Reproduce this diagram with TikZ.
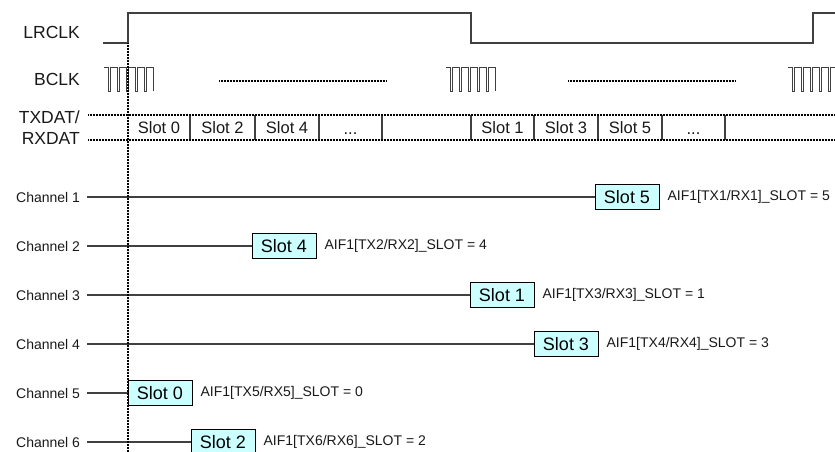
\documentclass[tikz,border=0pt]{standalone}
\usepackage{fontspec}
\setmainfont{Liberation Sans}
\definecolor{slotfill}{RGB}{204,255,255}
\definecolor{linegray}{RGB}{64,64,64}
\begin{document}
\begin{tikzpicture}[x=1pt,y=-1pt,
  sig/.style={draw=linegray, line width=1.1pt},
  dotl/.style={draw=black, line width=2pt, dash pattern=on 1pt off 0.5pt},
  lbl/.style={font=\fontsize{17.5}{18}\selectfont, anchor=east, inner sep=0pt, text=black!90},
  chl/.style={font=\fontsize{14}{14}\selectfont, anchor=east, inner sep=0pt, outer xsep=7pt, text=black!90},
  slotbox/.style={draw=black, fill=slotfill, line width=0.9pt, minimum width=64pt, minimum height=25pt, inner sep=0pt, font=\fontsize{18}{18}\selectfont},
  slottxt/.style={font=\fontsize{16.5}{17}\selectfont, inner sep=0pt, text=black!90},
  aif/.style={font=\fontsize{14}{14}\selectfont, anchor=west, inner sep=0pt, text=black!90},
  bclk/.pic={\draw[draw=linegray, line width=1pt]
    (0,0) -- (4,0) -- (4,24) -- (6.5,24) -- (6.5,0) -- (13,0) -- (13,24) -- (15.5,24) -- (15.5,0)
    -- (22,0) -- (22,24) -- (24.5,24) -- (24.5,0) -- (31,0) -- (31,24) -- (33.5,24) -- (33.5,0)
    -- (40,0) -- (40,24) -- (42.5,24) -- (42.5,0) -- (49,0) -- (49,24);}
]
\useasboundingbox (0,0) rectangle (835,451);

% signal labels
\node[lbl] (lr) at (80,32) {LRCLK};
\node[lbl] (bc) at (80,79) {BCLK};
\node[lbl] (txd) at (80,117) {TXDAT/};
\node[lbl] (rxd) at (80,138) {RXDAT};

% LRCLK waveform
\draw[sig] (103,43) -- (128,43) -- (128,13) -- (471,13) -- (471,43) -- (813,43) -- (813,13) -- (836,13);

% BCLK waveform
\pic at (104,67) {bclk};
\pic at (446,67) {bclk};
\pic at (788,67) {bclk};
\draw[dotl] (219,81) -- (387,81);
\draw[dotl] (568,81) -- (735,81);

% data row
\foreach \x in {190,255,319,382,471,534,598,662,725}
  \draw[sig] (\x,115) -- (\x,140);
\draw[dotl] (88,115) -- (836,115);
\draw[dotl] (88,140) -- (836,140);
\node[slottxt] (s0) at (159,128) {Slot 0};
\node[slottxt] (s2) at (222.5,128) {Slot 2};
\node[slottxt] (s4) at (287,128) {Slot 4};
\node[slottxt, anchor=base] (d1) at (350.5,134) {...};
\node[slottxt] (s1) at (502.5,128) {Slot 1};
\node[slottxt] (s3) at (566,128) {Slot 3};
\node[slottxt] (s5) at (630,128) {Slot 5};
\node[slottxt, anchor=base] (d2) at (693.5,134) {...};

% channels
\node[chl] (c1) at (87,197) {Channel 1};
\node[chl] (c2) at (87,246) {Channel 2};
\node[chl] (c3) at (87,295) {Channel 3};
\node[chl] (c4) at (87,344) {Channel 4};
\node[chl] (c5) at (87,393) {Channel 5};
\node[chl] (c6) at (87,442) {Channel 6};

\node[slotbox] (b1) at (627,197) {Slot 5};
\node[slotbox] (b2) at (284,246) {Slot 4};
\node[slotbox] (b3) at (502,295) {Slot 1};
\node[slotbox] (b4) at (566,344) {Slot 3};
\node[slotbox] (b5) at (160,393) {Slot 0};
\node[slotbox] (b6) at (223,442) {Slot 2};

\foreach \i in {1,...,6}
  \draw[sig] (c\i.east) -- (b\i.west);

% vertical frame-sync marker
\draw[dotl] (128,43) -- (128,452);

\node[aif] (a1) at ([xshift=8pt]b1.east) {AIF1[TX1/RX1]\_SLOT = 5};
\node[aif] (a2) at ([xshift=8pt]b2.east) {AIF1[TX2/RX2]\_SLOT = 4};
\node[aif] (a3) at ([xshift=8pt]b3.east) {AIF1[TX3/RX3]\_SLOT = 1};
\node[aif] (a4) at ([xshift=8pt]b4.east) {AIF1[TX4/RX4]\_SLOT = 3};
\node[aif] (a5) at ([xshift=8pt]b5.east) {AIF1[TX5/RX5]\_SLOT = 0};
\node[aif] (a6) at ([xshift=8pt]b6.east) {AIF1[TX6/RX6]\_SLOT = 2};
\end{tikzpicture}
\end{document}
